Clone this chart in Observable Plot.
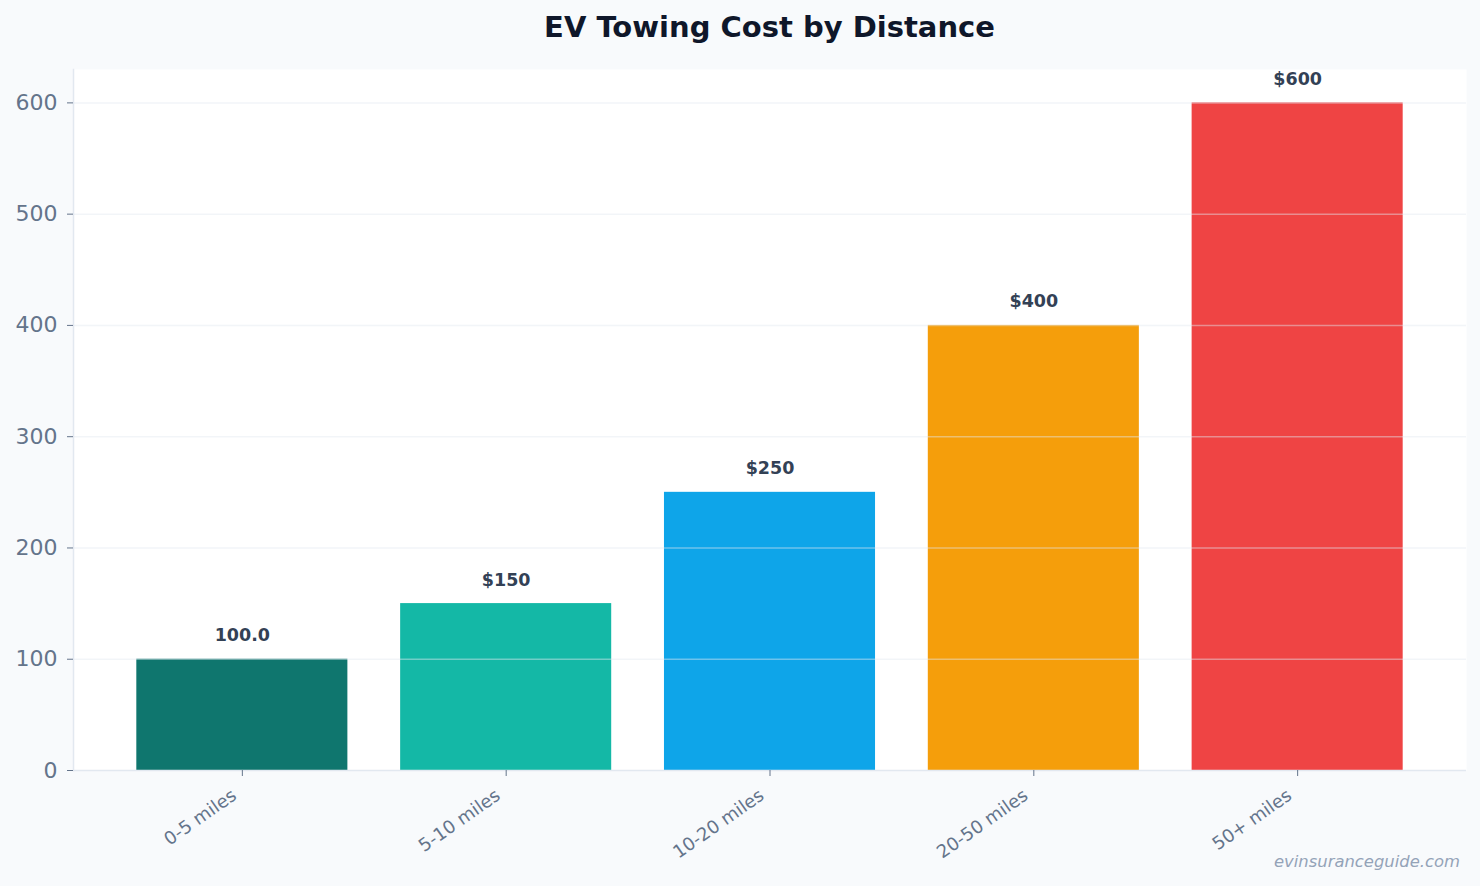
<!DOCTYPE html>
<html>
<head>
<meta charset="utf-8">
<script src="https://cdn.jsdelivr.net/npm/d3@7"></script>
<script src="https://cdn.jsdelivr.net/npm/@observablehq/plot@0.6"></script>
<style>
  html, body { margin: 0; padding: 0; background: #f8fafc; }
  #wrap { position: relative; width: 1480px; height: 886px; font-family: "DejaVu Sans", sans-serif; }
  #title {
    box-sizing: border-box; width: 1480px; height: 54px; line-height: 54px;
    padding-left: 73px; padding-right: 14px; text-align: center;
    font-size: 29px; font-weight: bold; color: #0f172a;
  }
  #source {
    position: absolute; right: 20px; top: 852px;
    font-size: 16.4px; font-style: italic; color: #94a3b8;
  }
</style>
</head>
<body>
<div id="wrap">
  <div id="title">EV Towing Cost by Distance</div>
  <div id="chart"></div>
  <div id="source">evinsuranceguide.com</div>
</div>
<script>
// Towing cost per distance band
const ranges = ["0-5 miles", "5-10 miles", "10-20 miles", "20-50 miles", "50+ miles"];
const costs = [100, 150, 250, 400, 600];
const costLabels = ["100.0", "$150", "$250", "$400", "$600"];
const barColors = ["#0f766e", "#14b8a6", "#0ea5e9", "#f59e0b", "#ef4444"];
const yTicks = [0, 100, 200, 300, 400, 500, 600];

const rows = ranges.map((r, i) => ({range: r, cost: costs[i], label: costLabels[i], color: barColors[i]}));

const chart = Plot.plot({
  width: 1480,
  height: 832,
  marginLeft: 73,
  marginRight: 14,
  marginTop: 15,
  marginBottom: 116,
  style: {fontFamily: "DejaVu Sans, sans-serif", background: "transparent", overflow: "visible"},
  x: {domain: ranges, paddingInner: 0.2, paddingOuter: 0.24, round: false, label: null},
  y: {domain: [0, 630], label: null},
  color: {type: "identity"},
  marks: [
    Plot.frame({fill: "white", stroke: null}),
    Plot.barY(rows, {x: "range", y: "cost", fill: "color"}),
    Plot.gridY(yTicks.filter(d => d > 0), {stroke: "#e2e8f0", strokeOpacity: 0.45, strokeWidth: 1.5}),
    Plot.ruleY([0], {stroke: "#e2e8f0", strokeWidth: 1.5}),
    Plot.frame({anchor: "left", stroke: "#e2e8f0", strokeWidth: 1.5}),
    Plot.axisY({ticks: yTicks, tickSize: 6, tickPadding: 10, fontSize: 22, color: "#64748b", stroke: "#64748b", label: null}),
    // tick marks under each bar
    Plot.axisX({tickSize: 6, text: null, stroke: "#64748b", label: null}),
    // slanted category names, right-aligned just below each tick
    Plot.axisX({tickSize: 0, tickPadding: 12, tickRotate: -35, dx: -8, dy: 11, fontSize: 18, color: "#64748b", label: null}),
    Plot.text(rows, {x: "range", y: "cost", text: "label", lineAnchor: "bottom", dy: -18,
      fontSize: 17.5, fontWeight: "bold", fill: "#334155"})
  ]
});
document.getElementById("chart").appendChild(chart);
</script>
</body>
</html>
